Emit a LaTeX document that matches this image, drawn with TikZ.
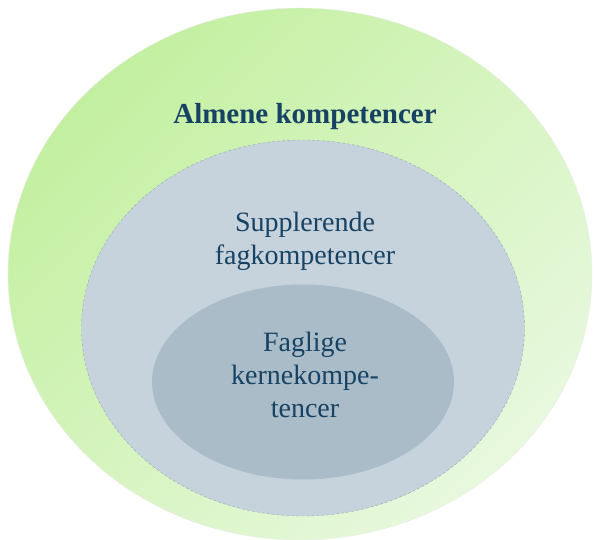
\documentclass[tikz,border=0pt]{standalone}
\usepackage{fontspec}
\setmainfont{Liberation Serif}
\usetikzlibrary{shapes.geometric}
\definecolor{almgreen}{RGB}{195,240,160}
\definecolor{almlight}{RGB}{232,248,222}
\definecolor{supfill}{RGB}{199,211,220}
\definecolor{supline}{RGB}{150,166,182}
\definecolor{kernfill}{RGB}{170,188,199}
\definecolor{txtblue}{RGB}{22,66,100}

\begin{document}
\begin{tikzpicture}[x=1pt, y=-1pt,
    ring/.style={ellipse, inner sep=0pt},
    lbl/.style={text=txtblue, align=center, font=\fontsize{28}{33}\selectfont}]
    \useasboundingbox (0,0) rectangle (597,540);
    %Almene kompetencer
    \node[ring, minimum width=584pt, minimum height=532pt, top color=almgreen, bottom color=almlight,
          shading angle=45, draw=white!85!gray, thin] (alm) at (300,274) {};
    %Supplerende fagkompetencer
    \node[ring, minimum width=443pt, minimum height=376pt, fill=supfill, draw=supline,
          dash pattern=on 3pt off 2pt, thin] (sup) at (303,328) {};
    %Faglige kernekompetencer
    \node[ring, minimum width=302pt, minimum height=195pt, fill=kernfill] (kern) at (303,382) {};

    %labels
    \node[lbl, font=\fontsize{29}{33}\selectfont\bfseries] (almtxt) at (305,117) {Almene kompetencer};
    \node[lbl] (suptxt) at (305,241) {Supplerende\\fagkompetencer};
    \node[lbl] (kerntxt) at (305,375) {Faglige\\kernekompe-\\tencer};
\end{tikzpicture}
\end{document}
